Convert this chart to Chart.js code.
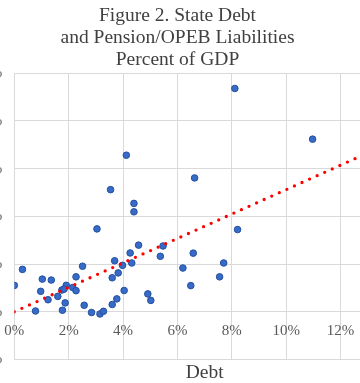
<!DOCTYPE html>
<html>
<head>
<meta charset="utf-8">
<script src="https://cdn.jsdelivr.net/npm/chart.js@4"></script>
<style>
  html, body { margin: 0; padding: 0; background: #fff; }
  #wrap { position: relative; width: 360px; height: 383px; overflow: hidden; }
  #chart { position: absolute; left: -44px; top: 0; }
</style>
</head>
<body>
<div id="wrap"><canvas id="chart" width="444" height="383"></canvas></div>
<script>
// state debt (% of GDP) vs pension/OPEB liabilities (% of GDP)
const debt = [8.11, 10.97, 4.12, 6.63, 3.54, 4.40, 4.40, 3.04, 8.21, 4.57,
              5.47, 4.26, 6.58, 5.37, 3.69, 7.70, 4.32, 3.98, 2.51, 6.20,
              0.30, 3.82, 7.55, 3.60, 2.27, 1.03, 1.36, 0.00, 6.49, 1.91,
              2.15, 1.75, 2.27, 0.97, 4.04, 4.91, 1.60, 1.24, 3.77, 5.02,
              1.87, 2.57, 3.60, 0.78, 1.77, 2.84, 3.15, 3.28, 1.83];
const pension = [23.39, 18.08, 16.40, 14.02, 12.79, 11.35, 10.47, 8.68, 8.61, 6.98,
                 6.89, 6.16, 6.14, 5.81, 5.34, 5.11, 5.11, 4.86, 4.77, 4.58,
                 4.44, 4.07, 3.66, 3.56, 3.66, 3.42, 3.32, 2.76, 2.74, 2.77,
                 2.54, 2.28, 2.21, 2.14, 2.23, 1.87, 1.61, 1.26, 1.35, 1.19,
                 0.93, 0.68, 0.76, 0.08, 0.16, -0.08, -0.23, 0.05, 2.37];
// linear trend end points
const trendX = [0, 14];
const trendY = [0, 17.92];

const xTicks = [0, 2, 4, 6, 8, 10, 12, 14];
const yTicks = [-5, 0, 5, 10, 15, 20, 25];

const serif = "'Liberation Serif', 'Times New Roman', serif";
const grey = '#595959';

new Chart(document.getElementById('chart'), {
    type: 'scatter',
    data: {
        datasets: [{
            label: 'Trend',
            type: 'line',
            data: trendX.map((x, i) => ({ x: x, y: trendY[i] })),
            borderColor: '#ff0000',
            borderWidth: 3.3,
            borderDash: [0, 8.3],
            borderCapStyle: 'round',
            pointRadius: 0,
            fill: false,
            order: 0
        }, {
            label: 'States',
            data: debt.map((x, i) => ({ x: x, y: pension[i] })),
            backgroundColor: '#386ac8',
            borderColor: '#23519f',
            borderWidth: 1,
            pointRadius: 3.3,
            order: 1
        }]
    },
    options: {
        responsive: false,
        animation: false,
        layout: { padding: { left: 0, right: 1, top: 0, bottom: 0 } },
        plugins: {
            legend: { display: false },
            tooltip: { enabled: false },
            title: {
                display: true,
                text: ['Figure 2. State Debt', 'and Pension/OPEB Liabilities', 'Percent of GDP'],
                color: '#404040',
                font: { family: serif, size: 19.5, weight: 'normal', lineHeight: 1.13 },
                padding: { top: 5, bottom: 2 }
            }
        },
        scales: {
            x: {
                type: 'linear',
                min: 0,
                max: 14,
                afterBuildTicks: s => { s.ticks = xTicks.map(v => ({ value: v })); },
                grid: { color: '#d9d9d9', drawTicks: false },
                border: { display: false },
                ticks: {
                    color: grey,
                    mirror: true,
                    padding: 19,
                    font: { family: serif, size: 15 },
                    callback: v => v + '%'
                },
                title: {
                    display: true,
                    text: 'Debt',
                    color: '#404040',
                    font: { family: serif, size: 19.5 },
                    padding: { top: 0, bottom: -2 }
                },
                afterFit: s => {
                    s.height = 23.5;
                    s.paddingLeft = 0;
                    s.paddingRight = 0;
                }
            },
            y: {
                type: 'linear',
                min: -5,
                max: 25,
                afterBuildTicks: s => { s.ticks = yTicks.map(v => ({ value: v })); },
                grid: { color: '#d9d9d9', drawTicks: false },
                border: { display: false },
                ticks: {
                    color: grey,
                    padding: 12,
                    font: { family: serif, size: 15 },
                    callback: v => v + '%'
                },
                afterFit: s => { s.width = 58.3; }
            }
        }
    }
});
</script>
</body>
</html>
